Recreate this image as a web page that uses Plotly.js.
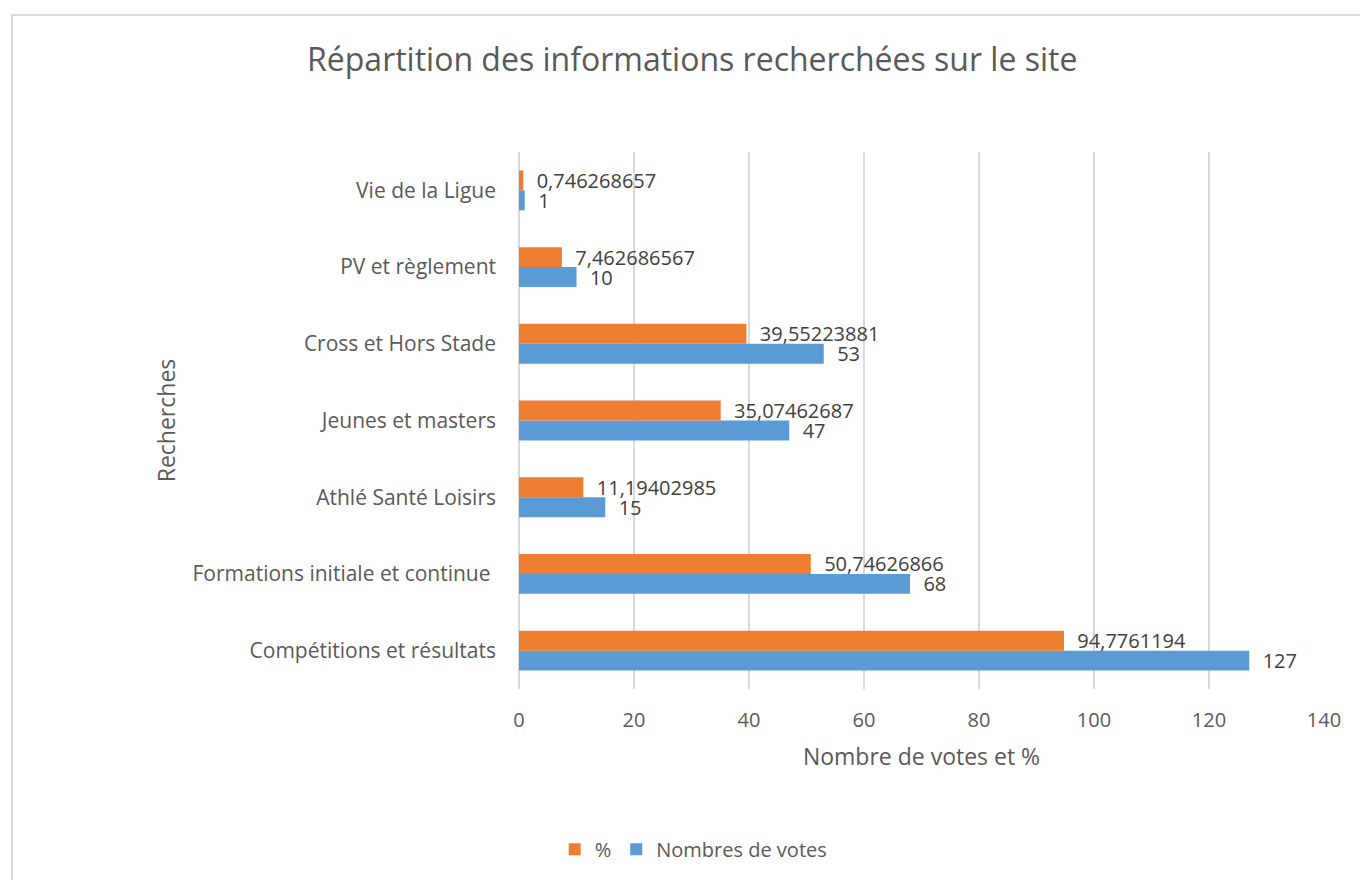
<!DOCTYPE html>
<html>
<head>
<meta charset="utf-8">
<script src="https://cdn.plot.ly/plotly-3.0.1.min.js"></script>
<style>
  html, body { margin: 0; padding: 0; background: #ffffff; overflow: hidden; }
  #frame { position: absolute; left: 11px; top: 14px; width: 1400px; height: 900px; border: 2px solid #d9d9d9; box-sizing: border-box; }
  #chart { position: absolute; left: 0; top: 0; width: 1360px; height: 880px; }
</style>
</head>
<body>
<div id="frame"></div>
<div id="chart"></div>
<script>
const categories = [
  "Compétitions et résultats",
  "Formations initiale et continue ",
  "Athlé Santé Loisirs",
  "Jeunes et masters",
  "Cross et Hors Stade",
  "PV et règlement",
  "Vie de la Ligue"
];
const votes = [127, 68, 15, 47, 53, 10, 1];
const percent = [94.7761194, 50.74626866, 11.19402985, 35.07462687, 39.55223881, 7.462686567, 0.746268657];
const xTicks = [0, 20, 40, 60, 80, 100, 120, 140];

const FONT = "Open Sans, sans-serif";
const PAD = '\u00A0\u00A0';
const txt = v => PAD + String(v).replace('.', ',');

const traces = [
  {
    type: 'bar', orientation: 'h', name: 'Nombres de votes',
    y: categories, x: votes,
    text: votes.map(txt), textposition: 'outside', cliponaxis: false, constraintext: 'none',
    textfont: { family: FONT, size: 20, color: '#404040' },
    marker: { color: '#5B9BD5' },
    legendrank: 2, hoverinfo: 'x+y'
  },
  {
    type: 'bar', orientation: 'h', name: '%',
    y: categories, x: percent,
    text: percent.map(txt), textposition: 'outside', cliponaxis: false, constraintext: 'none',
    textfont: { family: FONT, size: 20, color: '#404040' },
    marker: { color: '#ED7D31' },
    legendrank: 1, hoverinfo: 'x+y'
  }
];

const layout = {
  width: 1360, height: 880,
  paper_bgcolor: 'rgba(0,0,0,0)', plot_bgcolor: 'rgba(0,0,0,0)',
  margin: { l: 519, r: 36, t: 152, b: 190 },
  barmode: 'group', bargap: 0.48, bargroupgap: 0,
  font: { family: FONT, color: '#595959' },
  title: {
    text: 'Répartition des informations recherchées sur le site',
    font: { family: FONT, size: 32, color: '#595959' },
    x: 0.509, xref: 'container', xanchor: 'center',
    y: 0.932, yref: 'container', yanchor: 'middle'
  },
  xaxis: {
    range: [0, 140], tickvals: xTicks, ticktext: xTicks.map(String),
    showgrid: true, gridcolor: '#d9d9d9', gridwidth: 1.5,
    zeroline: true, zerolinecolor: '#d9d9d9', zerolinewidth: 1.5,
    showline: false, ticks: '',
    ticklabelstandoff: 17,
    tickfont: { family: FONT, size: 20, color: '#595959' },
    title: { text: 'Nombre de votes et %', font: { family: FONT, size: 23, color: '#595959' }, standoff: 16 }
  },
  yaxis: {
    type: 'category', showgrid: false, zeroline: false, showline: false, ticks: '',
    ticklabelstandoff: 22,
    tickfont: { family: FONT, size: 21, color: '#595959' },
    title: { text: 'Recherches', font: { family: FONT, size: 23, color: '#595959' }, standoff: 10 }
  },
  showlegend: true,
  legend: {
    orientation: 'h', x: 0.217, xanchor: 'center', y: -0.296, yanchor: 'middle',
    font: { family: FONT, size: 20, color: '#595959' },
    itemwidth: 30
  }
};

Plotly.newPlot('chart', traces, layout, { displayModeBar: false, staticPlot: true });
</script>
</body>
</html>
